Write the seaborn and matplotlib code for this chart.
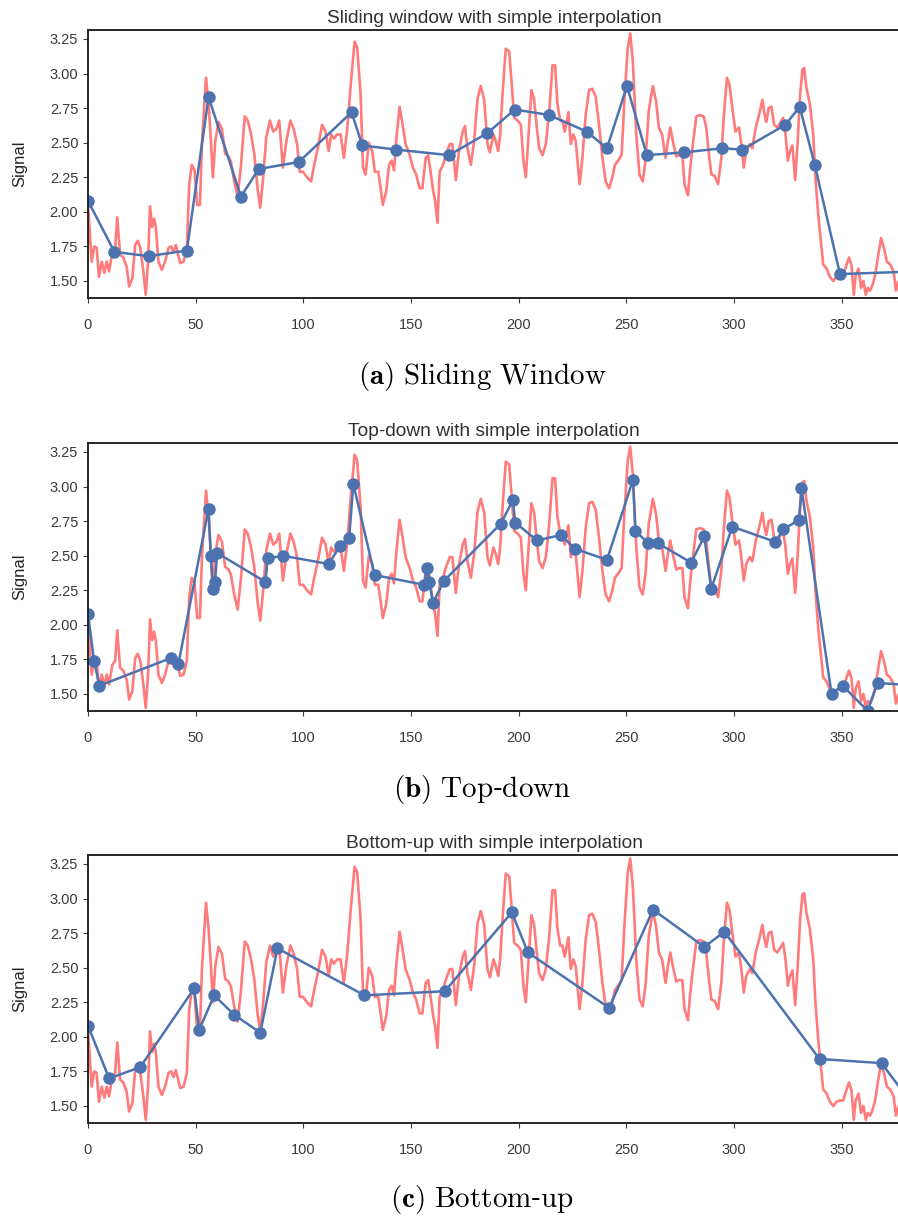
import matplotlib
matplotlib.use("Agg")
import matplotlib.pyplot as plt
import seaborn as sns
import numpy as np

# ---------------- data ----------------
signal_x = [0, 1.7, 2.9, 4.0, 5.1, 6.4, 7.6, 8.7, 9.8, 11.3, 12.6, 13.6, 14.9, 16.4, 18.0, 19.1,
            20.6, 21.9, 23.1, 24.3, 25.7, 26.8, 27.9, 28.8, 29.8, 30.7, 31.5, 32.7, 34.3, 35.8,
            37.4, 38.6, 39.7, 40.8, 42.8, 44.4, 45.9, 47.0, 48.2, 49.5, 50.7, 52.0, 52.9, 54.8,
            56.0, 56.9, 58.0, 59.1, 60.6, 62.2, 63.7, 65.3, 66.4, 67.9, 69.5, 71.0, 72.8, 74.2,
            75.6, 77.2, 78.8, 80.0, 81.3, 82.8, 84.5, 86.0, 87.5, 88.8, 90.5, 92.2, 94.0, 95.5,
            97.1, 98.3, 99.8, 101.7, 103.6, 104.8, 106.7, 108.7, 110.3, 111.8, 112.9, 114.2,
            115.7, 117.3, 118.8, 120.4, 121.9, 123.8, 125.0, 126.6, 127.7, 128.9, 130.4, 132.0,
            133.2, 134.8, 135.9, 136.9, 138.5, 139.8, 141.0, 142.1, 143.2, 144.7, 145.9, 147.5,
            149.4, 150.9, 152.4, 154.0, 155.3, 156.8, 158.0, 159.1, 160.3, 161.2, 162.3, 163.3,
            164.9, 166.1, 168.0, 169.2, 170.8, 172.3, 174.0, 175.1, 176.2, 177.8, 179.3, 180.9,
            182.4, 184.0, 185.5, 186.6, 188.3, 189.4, 190.5, 191.4, 192.5, 194.0, 195.6, 196.7,
            197.9, 199.5, 201.0, 202.2, 203.3, 204.4, 205.9, 207.2, 208.4, 209.5, 211.1, 212.6,
            214.2, 215.7, 216.9, 218.0, 219.3, 220.3, 221.4, 222.4, 223.1, 224.2, 225.4, 226.5,
            227.3, 228.3, 229.6, 231.1, 232.7, 234.2, 235.8, 237.3, 238.9, 240.4, 242.0, 243.5,
            244.7, 246.2, 247.8, 249.0, 250.6, 251.8, 253.0, 254.6, 256.1, 257.6, 258.9, 260.4,
            262.3, 263.8, 265.1, 266.6, 268.2, 269.3, 270.4, 271.6, 273.2, 274.4, 276.0, 277.0,
            278.6, 279.7, 280.9, 282.5, 284.0, 285.9, 287.1, 288.4, 289.5, 291.0, 292.6, 294.1,
            295.2, 296.7, 297.9, 299.2, 300.7, 302.3, 303.4, 304.5, 305.7, 307.3, 308.5, 310.1,
            311.6, 313.2, 314.0, 315.0, 316.1, 317.4, 318.6, 320.1, 321.7, 322.8, 323.9, 325.0,
            326.0, 327.1, 328.4, 329.5, 330.7, 331.8, 332.6, 333.6, 335.2, 336.8, 337.8, 339.1,
            340.3, 341.4, 343.0, 344.5, 346.1, 347.6, 349.2, 350.7, 352.3, 353.4, 354.6, 355.6,
            356.5, 357.8, 359.0, 360.1, 361.2, 362.1, 363.2, 364.3, 365.5, 366.8, 368.3, 369.6,
            371.0, 372.5, 374.1, 375.2, 376.4, 378.0, 380.0]
signal_y = [2.05, 1.64, 1.75, 1.74, 1.53, 1.64, 1.56, 1.64, 1.57, 1.71, 1.74, 1.96, 1.69, 1.67, 1.60, 1.46,
            1.52, 1.76, 1.79, 1.74, 1.57, 1.40, 1.64, 2.04, 1.89, 1.95, 1.89, 1.64, 1.58, 1.64,
            1.74, 1.75, 1.71, 1.76, 1.63, 1.64, 1.74, 2.20, 2.34, 2.30, 2.05, 2.05, 2.49, 2.97,
            2.78, 2.56, 2.25, 2.51, 2.65, 2.60, 2.42, 2.40, 2.36, 2.22, 2.11, 2.33, 2.69, 2.66,
            2.57, 2.42, 2.16, 2.03, 2.24, 2.54, 2.66, 2.58, 2.60, 2.66, 2.32, 2.52, 2.66, 2.60,
            2.49, 2.29, 2.29, 2.25, 2.22, 2.32, 2.46, 2.63, 2.58, 2.44, 2.56, 2.53,
            2.56, 2.56, 2.39, 2.60, 2.90, 3.23, 3.19, 2.85, 2.32, 2.27, 2.50, 2.44,
            2.29, 2.29, 2.17, 2.05, 2.15, 2.34, 2.37, 2.30, 2.53, 2.76, 2.65, 2.49,
            2.41, 2.32, 2.27, 2.17, 2.17, 2.39, 2.41, 2.29, 2.15, 2.08, 1.92, 2.29,
            2.34, 2.41, 2.49, 2.49, 2.23, 2.44, 2.58, 2.62, 2.46, 2.34, 2.51, 2.82,
            2.91, 2.81, 2.49, 2.43, 2.56, 2.51, 2.44, 2.56, 2.85, 3.18, 3.16, 2.94,
            2.68, 2.66, 2.63, 2.37, 2.25, 2.51, 2.88, 2.81, 2.61, 2.46, 2.41, 2.49,
            2.73, 3.06, 3.06, 2.78, 2.66, 2.66, 2.58, 2.66, 2.72, 2.49, 2.56, 2.51,
            2.37, 2.20, 2.39, 2.70, 2.88, 2.89, 2.83, 2.63, 2.39, 2.22, 2.17, 2.25,
            2.34, 2.37, 2.41, 2.78, 3.18, 3.29, 3.09, 2.56, 2.27, 2.22, 2.37, 2.73,
            2.91, 2.80, 2.61, 2.56, 2.39, 2.51, 2.61, 2.51, 2.40, 2.41, 2.41, 2.20,
            2.12, 2.32, 2.49, 2.69, 2.70, 2.69, 2.61, 2.41, 2.27, 2.26, 2.20, 2.39,
            2.68, 2.97, 2.92, 2.75, 2.58, 2.61, 2.49, 2.32, 2.44, 2.49, 2.46, 2.61,
            2.70, 2.81, 2.72, 2.65, 2.75, 2.76, 2.63, 2.61, 2.65, 2.68, 2.56, 2.37,
            2.44, 2.48, 2.23, 2.49, 2.85, 3.03, 3.04, 2.90, 2.78, 2.56, 2.25, 1.98,
            1.79, 1.62, 1.59, 1.53, 1.50, 1.53, 1.54, 1.54, 1.62, 1.67, 1.61, 1.40,
            1.54, 1.59, 1.45, 1.50, 1.40, 1.45, 1.43, 1.47, 1.54, 1.67, 1.81, 1.74,
            1.64, 1.62, 1.57, 1.43, 1.50, 1.52, 1.50]

sw_x = [0, 12.3, 28.1, 45.9, 56.0, 71.0, 79.3, 97.9, 122.4, 127.4, 143.2, 167.7, 185.5, 198.2,
        214.2, 231.6, 241.0, 250.3, 259.5, 276.7, 294.6, 303.9, 323.9, 330.5, 337.5, 349.2, 386.0]
sw_y = [2.08, 1.71, 1.68, 1.72, 2.83, 2.11, 2.31, 2.36, 2.72, 2.48, 2.45, 2.41, 2.57, 2.74,
        2.70, 2.58, 2.46, 2.91, 2.41, 2.43, 2.46, 2.45, 2.63, 2.76, 2.34, 1.55, 1.57]

td_x = [0, 2.8, 5.3, 38.5, 42.0, 56.0, 57.0, 58.0, 59.0, 60.0, 82.4, 83.4, 90.4, 111.8, 117.0,
        121.3, 123.2, 133.1, 156.0, 157.5, 158.5, 160.2, 165.4, 191.6, 197.3, 198.4, 208.5,
        219.6, 226.1, 241.0, 253.1, 254.2, 260.1, 264.7, 280.1, 286.2, 289.4, 299.2, 319.2,
        322.9, 330.2, 331.3, 345.3, 350.4, 362.0, 366.7, 386.0]
td_y = [2.08, 1.74, 1.56, 1.76, 1.72, 2.84, 2.50, 2.26, 2.31, 2.52, 2.31, 2.48, 2.50, 2.44, 2.57,
        2.63, 3.02, 2.36, 2.29, 2.41, 2.31, 2.16, 2.32, 2.73, 2.90, 2.74, 2.61,
        2.65, 2.55, 2.47, 3.05, 2.68, 2.59, 2.59, 2.45, 2.64, 2.26, 2.71, 2.60,
        2.69, 2.76, 2.99, 1.50, 1.56, 1.38, 1.58, 1.56]

bu_x = [0, 9.8, 24.2, 49.3, 51.6, 58.6, 67.9, 80.0, 88.0, 128.4, 165.7, 196.8, 204.3, 242.0,
        262.4, 286.2, 295.5, 339.7, 368.5, 381.0]
bu_y = [2.08, 1.70, 1.78, 2.35, 2.05, 2.30, 2.16, 2.03, 2.64, 2.30, 2.33, 2.90, 2.61, 2.21,
        2.92, 2.65, 2.76, 1.84, 1.81, 1.55]

titles = ["Sliding window with simple interpolation",
          "Top-down with simple interpolation",
          "Bottom-up with simple interpolation"]
captions = [r"$\mathbf{(a)}\ \mathrm{Sliding\ Window}$",
            r"$\mathbf{(b)}\ \mathrm{Top}$-$\mathrm{down}$",
            r"$\mathbf{(c)}\ \mathrm{Bottom}$-$\mathrm{up}$"]
segments = [(sw_x, sw_y), (td_x, td_y), (bu_x, bu_y)]
yticks = [1.50, 1.75, 2.00, 2.25, 2.50, 2.75, 3.00, 3.25]
xticks = [0, 50, 100, 150, 200, 250, 300, 350]

# ---------------- style ----------------
sns.set_style("ticks")
plt.rcParams["font.family"] = ["Liberation Sans", "DejaVu Sans"]
plt.rcParams["mathtext.fontset"] = "cm"

W, H = 898, 1216
fig = plt.figure(figsize=(W / 100, H / 100), dpi=100)

panels = [(30, 298, 377), (443, 711, 789), (855, 1123, 1200)]
x_right_px = 912
px_per_unit = 2.1534
for i, (top, bot, cap_y) in enumerate(panels):
    ax = fig.add_axes([88 / W, 1 - bot / H, (x_right_px - 88) / W, (bot - top) / H])
    sns.lineplot(x=signal_x, y=signal_y, ax=ax, color="#ff7b7b", linewidth=1.9,
                 sort=False, estimator=None)
    sx, sy = segments[i]
    sns.lineplot(x=sx, y=sy, ax=ax, color="#4c72b0", linewidth=1.8, marker="o",
                 markersize=9, markeredgewidth=0, sort=False, estimator=None)
    ax.set_xlim(0, (x_right_px - 88) / px_per_unit)
    ax.set_ylim(1.377, 3.315)
    ax.set_xticks(xticks)
    ax.set_yticks(yticks)
    ax.set_yticklabels([f"{t:.2f}" for t in yticks])
    ax.tick_params(labelsize=10.5, colors="#3a3a3a")
    ax.tick_params(axis="x", pad=11)
    ax.set_ylabel("Signal", fontsize=12, color="#262626", labelpad=16)
    ax.set_title(titles[i], fontsize=13.8, color="#303030", pad=5)
    ax.title.set_x(0.493)
    for s in ax.spines.values():
        s.set_linewidth(1.4)
        s.set_color("#262626")
    fig.text(482 / W, 1 - cap_y / H, captions[i], ha="center", va="center",
             fontsize=21, color="black")

fig.savefig("out.png", dpi=100)
